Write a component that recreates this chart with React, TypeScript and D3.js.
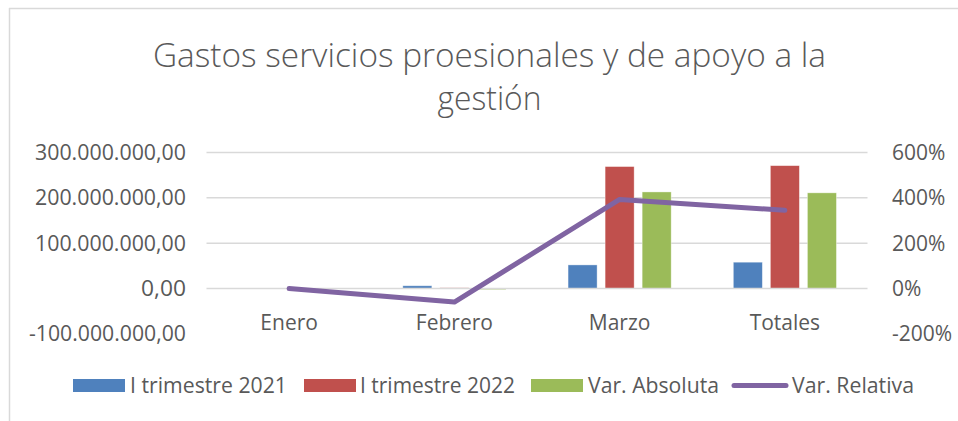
import React from "react";
import * as d3 from "d3";

const categories = ["Enero", "Febrero", "Marzo", "Totales"];
const seriesNames = ["I trimestre 2021", "I trimestre 2022", "Var. Absoluta"];
const trim2021 = [0, 6000000, 52000000, 58000000];
const trim2022 = [0, 1500000, 269000000, 271000000];
const varAbsoluta = [0, -2500000, 213000000, 211000000];
const varRelativa = [0, -0.6, 3.93, 3.45];
const leftTicks = [-100000000, 0, 100000000, 200000000, 300000000];
const rightTicks = [-2, 0, 2, 4, 6];
const colors = ["#4F81BD", "#C0504D", "#9BBB59", "#8064A2"];

const W = 958;
const H = 421;
const FONT = "'Open Sans', 'Liberation Sans', sans-serif";
const TEXT = "#595959";

function fmtLeft(v: number): string {
  const neg = v < 0;
  const s = Math.abs(v).toFixed(0).replace(/\B(?=(\d{3})+(?!\d))/g, ".");
  return (neg ? "-" : "") + s + ",00";
}

export default function App() {
  const x0 = d3.scaleBand<string>().domain(categories).range([206.5, 867.5]).paddingInner(0.376).paddingOuter(0.188);
  const x1 = d3.scaleBand<string>().domain(seriesNames).range([0, x0.bandwidth()]).paddingInner(8 / 37).paddingOuter(0);
  const y = d3.scaleLinear().domain([-100000000, 300000000]).range([333.8, 152.5]);
  const y2 = d3.scaleLinear().domain([-2, 6]).range([333.8, 152.5]);
  const seriesVals = [trim2021, trim2022, varAbsoluta];
  const cx = (c: string) => (x0(c) as number) + x0.bandwidth() / 2;
  const line = d3.line<number>().x((_, i) => cx(categories[i])).y((d) => y2(d));

  const legendItems = [
    { label: seriesNames[0], sx: 73, tx: 130, tl: 157, kind: "rect", color: colors[0] },
    { label: seriesNames[1], sx: 304, tx: 360, tl: 155, kind: "rect", color: colors[1] },
    { label: seriesNames[2], sx: 531, tx: 588, tl: 131, kind: "rect", color: colors[2] },
    { label: "Var. Relativa", sx: 732, tx: 792, tl: 122, kind: "line", color: colors[3] },
  ];
  const leftLen: Record<string, number> = { "300000000": 151, "200000000": 151, "100000000": 151, "0": 45, "-100000000": 157 };

  return (
    <svg width={W} height={H} style={{ position: "absolute", left: 0, top: 0, background: "#fff" }} fontFamily={FONT}>
      <rect x={0} y={0} width={W} height={H} fill="#fff" />
      <line x1={9.5} y1={8} x2={9.5} y2={H} stroke="#d9d9d9" strokeWidth={1.5} />
      <line x1={9} y1={8.5} x2={W} y2={8.5} stroke="#d9d9d9" strokeWidth={1.5} />
      <text x={489.5} y={67} textAnchor="middle" fontSize={33} fontWeight={300} fill={TEXT} textLength={673} lengthAdjust="spacingAndGlyphs">
        Gastos servicios proesionales y de apoyo a la
      </text>
      <text x={489.5} y={110} textAnchor="middle" fontSize={33} fontWeight={300} fill={TEXT} textLength={104} lengthAdjust="spacingAndGlyphs">
        gestión
      </text>
      {leftTicks.map((t) => (
        <g key={"l" + t}>
          {t !== 0 && t !== -100000000 && (
            <line x1={206.5} x2={867.5} y1={y(t)} y2={y(t)} stroke="#d9d9d9" strokeWidth={1.5} />
          )}
          <text x={186} y={y(t) + 7.5} textAnchor="end" fontSize={21} fill={TEXT} textLength={leftLen[String(t)]} lengthAdjust="spacingAndGlyphs">
            {fmtLeft(t)}
          </text>
        </g>
      ))}
      {rightTicks.map((t) => (
        <text key={"r" + t} x={892} y={y2(t) + 7.5} textAnchor="start" fontSize={21} fill={TEXT}>
          {Math.round(t * 100) + "%"}
        </text>
      ))}
      {seriesVals.map((vals, si) =>
        vals.map((v, ci) => {
          const bx = (x0(categories[ci]) as number) + (x1(seriesNames[si]) as number);
          const top = Math.min(y(v), y(0));
          const h = Math.abs(y(v) - y(0));
          return (
            <rect key={si + "-" + ci} x={bx} y={top} width={x1.bandwidth()} height={Math.max(h, 0)} fill={colors[si]} stroke="#fff" strokeOpacity={0.5} strokeWidth={0.75} />
          );
        })
      )}
      <line x1={206.5} x2={867.5} y1={y(0)} y2={y(0)} stroke="#d9d9d9" strokeWidth={1.5} />
      <path d={line(varRelativa) as string} fill="none" stroke={colors[3]} strokeWidth={5} strokeLinecap="round" strokeLinejoin="round" />
      {categories.map((c) => (
        <text key={c} x={cx(c)} y={330} textAnchor="middle" fontSize={21} fill={TEXT}>
          {c}
        </text>
      ))}
      {legendItems.map((it) => (
        <g key={it.label}>
          {it.kind === "rect" ? (
            <rect x={it.sx} y={379} width={52} height={13} fill={it.color} />
          ) : (
            <line x1={it.sx + 2} x2={it.sx + 54} y1={385.5} y2={385.5} stroke={it.color} strokeWidth={5} strokeLinecap="round" />
          )}
          <text x={it.tx} y={393} fontSize={21} fill={TEXT} textLength={it.tl} lengthAdjust="spacingAndGlyphs">
            {it.label}
          </text>
        </g>
      ))}
    </svg>
  );
}
